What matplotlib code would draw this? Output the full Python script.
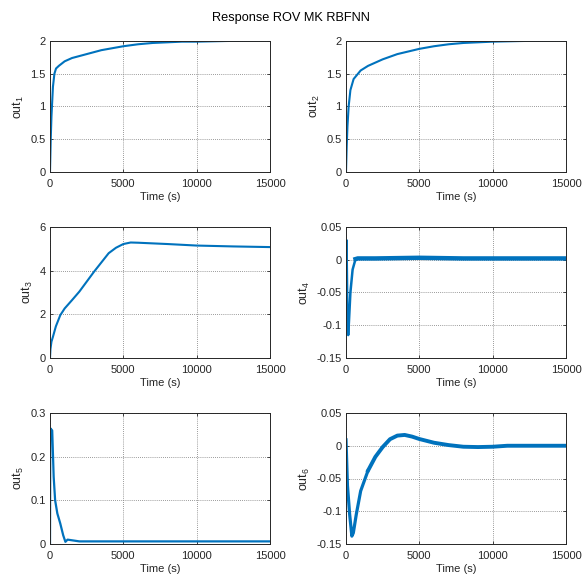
import matplotlib
matplotlib.use("Agg")
import matplotlib.pyplot as plt

# time axis keypoints (s) and read-off values for each output
t1 = [0, 50, 100, 200, 300, 410, 600, 1000, 1500, 2500, 3500, 5000, 6000, 7000, 8000, 9000, 10000, 12000, 15000]
out1 = [0, 0.5, 0.85, 1.3, 1.5, 1.58, 1.62, 1.69, 1.74, 1.80, 1.86, 1.92, 1.95, 1.97, 1.98, 1.99, 1.99, 2.0, 2.01]

t2 = [0, 50, 100, 180, 300, 520, 1000, 1500, 2500, 3500, 5000, 6000, 7000, 8000, 10000, 12000, 15000]
out2 = [0, 0.4, 0.7, 1.0, 1.25, 1.42, 1.55, 1.62, 1.72, 1.80, 1.88, 1.92, 1.95, 1.97, 1.99, 2.0, 2.01]

t3 = [0, 30, 100, 200, 400, 700, 1000, 1500, 2000, 3000, 4000, 4500, 5000, 5500, 6000, 8000, 10000, 12500, 15000]
out3 = [0, 0.4, 0.75, 0.97, 1.45, 1.96, 2.27, 2.65, 3.04, 3.95, 4.8, 5.05, 5.22, 5.29, 5.28, 5.22, 5.15, 5.11, 5.08]

t4 = [0, 30, 60, 100, 150, 200, 300, 450, 650, 800, 2000, 5000, 8000, 11000, 15000]
out4 = [0, 0.03, -0.02, -0.09, -0.115, -0.095, -0.05, -0.015, 0.001, 0.002, 0.002, 0.003, 0.002, 0.002, 0.002]

t5 = [0, 20, 150, 250, 350, 500, 700, 900, 1050, 1200, 2000, 5000, 8000, 12000, 15000]
out5 = [0, 0.265, 0.26, 0.154, 0.10, 0.07, 0.047, 0.02, 0.005, 0.01, 0.006, 0.006, 0.006, 0.006, 0.006]

t6 = [0, 100, 250, 400, 500, 700, 1000, 1500, 2000, 2500, 3000, 3500, 4000, 4500, 5000, 6000, 7000, 8000, 9000, 10000, 11000, 13000, 15000]
out6 = [0.009, -0.061, -0.105, -0.138, -0.133, -0.105, -0.069, -0.038, -0.017, -0.002, 0.010, 0.0155, 0.0165, 0.014, 0.0103, 0.0046, 0.001, -0.0015, -0.002, -0.0015, 0, 0, 0]

series = [(t1, out1), (t2, out2), (t3, out3), (t4, out4), (t5, out5), (t6, out6)]
ylims = [(0, 2), (0, 2), (0, 6), (-0.15, 0.05), (0, 0.3), (-0.15, 0.05)]
yticks = [
    [0, 0.5, 1, 1.5, 2],
    [0, 0.5, 1, 1.5, 2],
    [0, 2, 4, 6],
    [-0.15, -0.1, -0.05, 0, 0.05],
    [0, 0.1, 0.2, 0.3],
    [-0.15, -0.1, -0.05, 0, 0.05],
]
# (index where the noisy, thicker part starts, thin width, thick width)
styles = [(None, 1.5, 1.5), (None, 1.5, 1.5), (None, 1.5, 1.5),
          (8, 1.8, 3.2), (None, 1.6, 1.6), (7, 2.3, 2.8)]
xticks = [0, 5000, 10000, 15000]

plt.rcParams.update({
    "font.family": ["Liberation Sans", "DejaVu Sans"],
    "font.size": 7.5,
    "mathtext.default": "regular",
})

W, H = 582, 580
fig = plt.figure(figsize=(W / 100, H / 100), dpi=100)

lefts = [50, 346]
tops = [41, 227, 413]
aw, ah = 220, 131

blue = "#0072BD"
dark = "#262626"

for i, (t, y) in enumerate(series):
    r, c = divmod(i, 2)
    ax = fig.add_axes([lefts[c] / W, 1 - (tops[r] + ah) / H, aw / W, ah / H])
    k, lw_thin, lw_thick = styles[i]
    if k is None:
        ax.plot(t, y, color=blue, linewidth=lw_thin, solid_joinstyle="round")
    else:
        ax.plot(t[:k + 1], y[:k + 1], color=blue, linewidth=lw_thin, solid_joinstyle="round")
        ax.plot(t[k:], y[k:], color=blue, linewidth=lw_thick, solid_joinstyle="round")
    ax.set_xlim(0, 15000)
    ax.set_ylim(*ylims[i])
    ax.set_xticks(xticks)
    ax.set_xticklabels([str(v) for v in xticks])
    ax.set_yticks(yticks[i])
    ax.set_yticklabels([f"{v:g}" for v in yticks[i]])
    ax.grid(True, linestyle=(0, (1, 1.5)), color="#7a7a7a", linewidth=0.6)
    ax.set_axisbelow(True)
    ax.tick_params(direction="in", length=2.5, width=0.6, colors=dark, labelsize=8, pad=3,
                   top=True, right=True)
    ax.tick_params(axis="x", pad=5)
    for sp in ax.spines.values():
        sp.set_color(dark)
        sp.set_linewidth(0.7)
    ax.set_xlabel("Time (s)", color=dark, fontsize=8, labelpad=2)
    ax.set_ylabel(f"out$_{{{i + 1}}}$", color=dark, fontsize=9, labelpad=3)

fig.text(0.5, 1 - 18 / H, "Response ROV MK RBFNN", ha="center", va="center", fontsize=9.2, color="black")

fig.savefig("out.png", dpi=100)
